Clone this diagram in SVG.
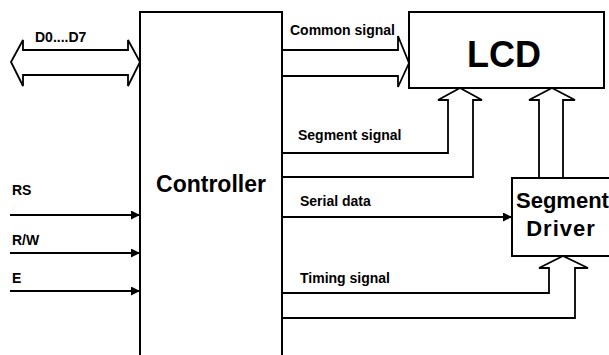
<svg xmlns="http://www.w3.org/2000/svg" width="609" height="355" viewBox="0 0 609 355">
<style>
.box{fill:#fff;stroke:#000;stroke-width:2}
.ln{fill:none;stroke:#000;stroke-width:1.8}
.big{font-family:"Liberation Sans",Arial,sans-serif;font-weight:bold;fill:#000}
.lbl{font-family:"Liberation Sans",Arial,sans-serif;font-weight:bold;font-size:14px;fill:#000}
</style>
<defs>
<marker id="tri" viewBox="0 0 10 10" refX="10" refY="5" markerWidth="10" markerHeight="9" markerUnits="userSpaceOnUse" orient="auto">
<path d="M0,0 L10,5 L0,10 Z" fill="#000"/>
</marker>
</defs>
<rect width="609" height="355" fill="#fff"/>
<g id="controller">
<path class="box" d="M140,360 L140,12 L282,12 L282,360"/>
<text class="big" x="211" y="192" font-size="23" text-anchor="middle">Controller</text>
</g>
<g id="lcd">
<rect class="box" x="409" y="12" width="195" height="76"/>
<text class="big" x="504" y="67" font-size="36" text-anchor="middle">LCD</text>
</g>
<g id="segment-driver">
<rect class="box" x="512" y="178" width="102" height="78"/>
<text class="big" x="516" y="208" font-size="22">Segment</text>
<text class="big" x="561" y="236" font-size="22" text-anchor="middle" letter-spacing="1">Driver</text>
</g>
<g id="connectors">
<path class="ln" d="M11,62 L23,40 L23,50 L128,50 L128,40 L140,62 L128,86 L128,75 L23,75 L23,86 Z"/>
<path class="ln" d="M282,50 L398,50 L398,36 L409,63 L398,87 L398,76 L282,76"/>
<path class="ln" d="M282,153 L448,153 L448,100 L438,100 L460,88 L482,100 L473,100 L473,177 L282,177"/>
<path class="ln" d="M539,178 L539,100 L529,100 L552,88 L575,100 L563,100 L563,178"/>
<path class="ln" d="M282,293 L549,293 L549,268 L539,268 L563,256 L588,268 L575,268 L575,318 L282,318"/>
<line class="ln" x1="282" y1="217" x2="512" y2="217" marker-end="url(#tri)"/>
<line class="ln" x1="10" y1="215" x2="140" y2="215" marker-end="url(#tri)"/>
<line class="ln" x1="10" y1="253" x2="140" y2="253" marker-end="url(#tri)"/>
<line class="ln" x1="10" y1="291" x2="140" y2="291" marker-end="url(#tri)"/>
</g>
<g id="labels">
<text class="lbl" x="35" y="42">D0....D7</text>
<text class="lbl" x="290" y="35">Common signal</text>
<text class="lbl" x="298" y="140">Segment signal</text>
<text class="lbl" x="300" y="206">Serial data</text>
<text class="lbl" x="300" y="283">Timing signal</text>
<text class="lbl" x="12" y="195">RS</text>
<text class="lbl" x="12" y="245">R/W</text>
<text class="lbl" x="12" y="283">E</text>
</g>
</svg>
